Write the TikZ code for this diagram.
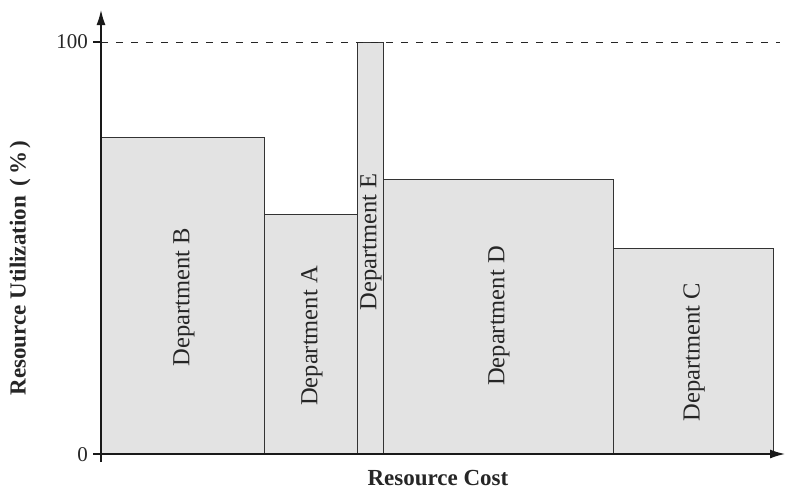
\documentclass[tikz,border=0pt]{standalone}
\usepackage{fontspec}
\setmainfont{Liberation Serif}
\usetikzlibrary{arrows.meta}
\begin{document}
\begin{tikzpicture}[x=1pt,y=-1pt,
  bar/.style={draw=black!80,fill=black!11,line width=0.9pt},
  deptlabel/.style={rotate=90,font=\fontsize{24.5}{26}\selectfont,text=black!85,inner sep=0pt},
  axisline/.style={black!90,line width=1.3pt},
  axistip/.style={-{Latex[length=15pt,width=9pt]}},
  axistitle/.style={font=\bfseries\fontsize{23}{26}\selectfont,text=black!85},
  ticklabel/.style={font=\fontsize{21}{24}\selectfont,text=black!85,inner sep=0pt},
  guide/.style={black!85,line width=0.9pt,dash pattern=on 7pt off 8pt}]
\useasboundingbox (0,0) rectangle (785,493);

% key points of the axes
\coordinate (origin) at (101,454);
\coordinate (ytop) at (101,10);
\coordinate (ybot) at (101,462);
\coordinate (xleft) at (93,454);
\coordinate (xright) at (785,454);
\coordinate (hundredtick) at (93,42);
\coordinate (hundredaxis) at (101,42);
\coordinate (hundredend) at (780,42);

% departments: width = cost, height = utilization
\draw[bar] (101,137) rectangle (264,454);
\draw[bar] (264,214) rectangle (357,454);
\draw[bar] (357,42) rectangle (383,454);
\draw[bar] (383,179) rectangle (613,454);
\draw[bar] (613,248) rectangle (773,454);

\node[deptlabel] (labB) at (184,297) {Department B};
\node[deptlabel] (labA) at (312,336) {Department A};
\node[deptlabel] (labE) at (371,242) {Department E};
\node[deptlabel] (labD) at (499,316) {Department D};
\node[deptlabel] (labC) at (694,352) {Department C};

% 100 % reference line
\draw[guide] (hundredaxis) -- (hundredend);
\draw[axisline] (hundredtick) -- (hundredaxis);

% axes
\draw[axisline,axistip] (ybot) -- (ytop);
\draw[axisline,axistip] (xleft) -- (xright);

\node[ticklabel,anchor=east] (l100) at (88,42) {100};
\node[ticklabel,anchor=east] (l0) at (88,455) {0};

\node[axistitle] (xtitle) at (438,478) {Resource Cost};
\node[axistitle,rotate=90] (ytitle) at (20,268) {Resource Utilization\ \,(\,\%\,)};
\end{tikzpicture}
\end{document}
